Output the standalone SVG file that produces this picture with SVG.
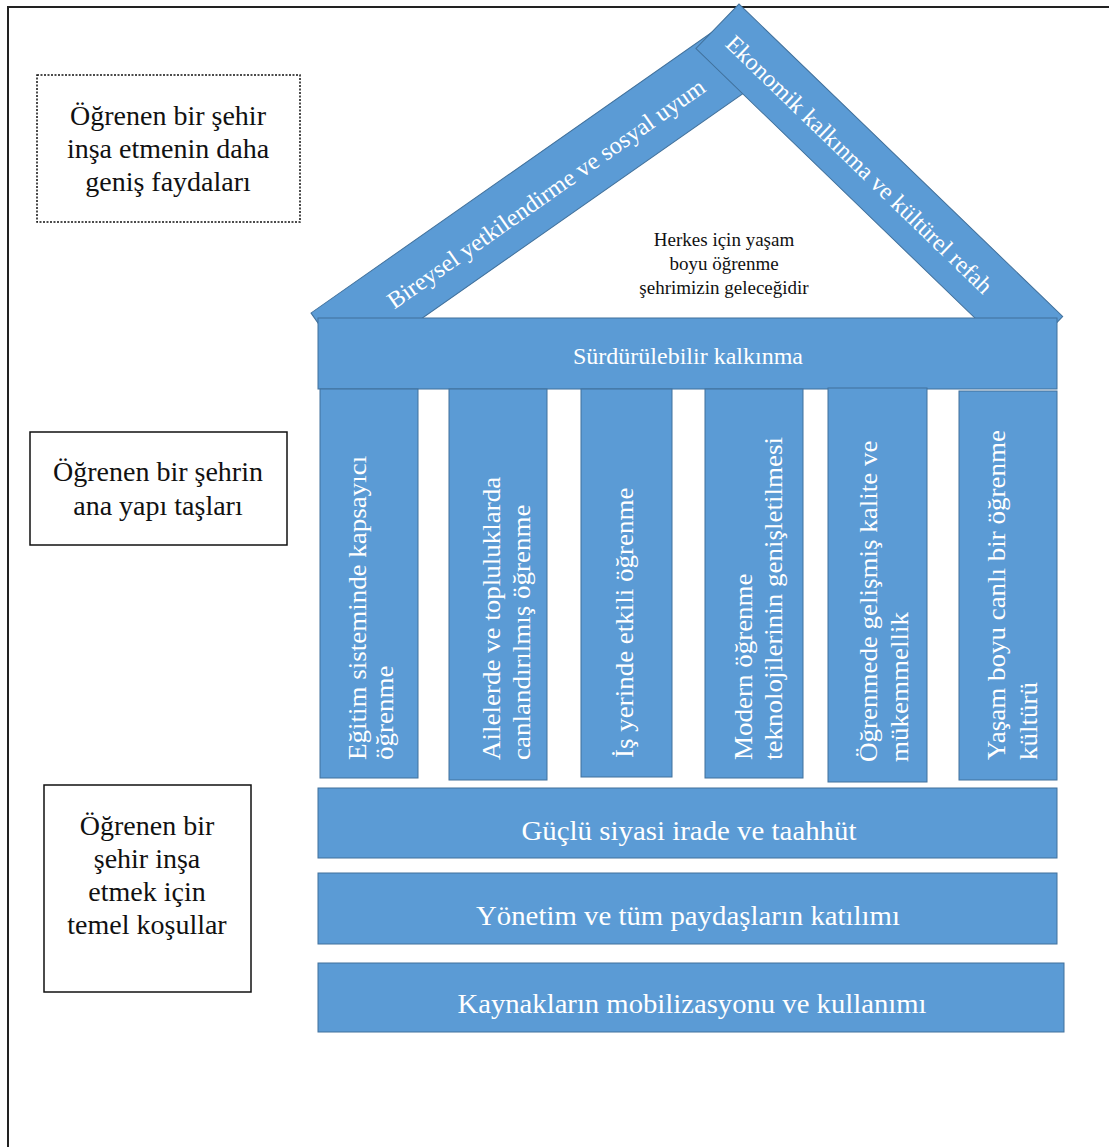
<svg xmlns="http://www.w3.org/2000/svg" width="1109" height="1147" viewBox="0 0 1109 1147">
<style>
.blk{fill:#5B9BD5;stroke:#41719C;stroke-width:1}
.wt{fill:#FFFFFF;font-family:"Liberation Serif","Times New Roman",serif}
.bt{fill:#111111;font-family:"Liberation Serif","Times New Roman",serif}
.box{fill:#FFFFFF;stroke:#111111;stroke-width:1.5}
.col{font-size:25px}
.bar{font-size:27px;text-anchor:middle}
.lbl{font-size:28px;text-anchor:middle}
</style>
<rect x="0" y="0" width="1109" height="1147" fill="#FFFFFF"/>
<path d="M8,1147 V7 H1109" fill="none" stroke="#222222" stroke-width="2"/>

<g id="roof-left">
  <g transform="translate(311,313) rotate(-35)">
    <rect class="blk" x="0" y="0" width="520" height="68"/>
    <text class="wt" x="261" y="45" font-size="24" text-anchor="middle" textLength="382" lengthAdjust="spacingAndGlyphs">Bireysel yetkilendirme ve sosyal uyum</text>
  </g>
</g>
<g id="roof-right">
  <g transform="translate(739,4) rotate(44)">
    <rect class="blk" x="0" y="0" width="450" height="62"/>
    <text class="wt" x="198" y="40" font-size="24" text-anchor="middle">Ekonomik kalkınma ve kültürel refah</text>
  </g>
</g>

<g id="vision">
  <text class="bt" font-size="19" text-anchor="middle"><tspan x="724" y="246">Herkes için yaşam</tspan><tspan x="724" y="270">boyu öğrenme</tspan><tspan x="724" y="294">şehrimizin geleceğidir</tspan></text>
</g>

<g id="entablature">
  <rect class="blk" x="318" y="318" width="739" height="71"/>
  <text class="wt" x="688" y="364" font-size="23" text-anchor="middle" textLength="230" lengthAdjust="spacingAndGlyphs">Sürdürülebilir kalkınma</text>
</g>

<g id="col1">
  <rect class="blk" x="320" y="389" width="98" height="389"/>
  <text class="wt col" transform="translate(366,760) rotate(-90) scale(1.08,1)"><tspan x="0" y="0">Eğitim sisteminde kapsayıcı</tspan><tspan x="0" y="27">öğrenme</tspan></text>
</g>
<g id="col2">
  <rect class="blk" x="449" y="389" width="98" height="391"/>
  <text class="wt col" transform="translate(500,760) rotate(-90) scale(1.08,1)"><tspan x="0" y="0">Ailelerde ve topluluklarda</tspan><tspan x="0" y="30">canlandırılmış öğrenme</tspan></text>
</g>
<g id="col3">
  <rect class="blk" x="581" y="389" width="91" height="388"/>
  <text class="wt col" transform="translate(633,758) rotate(-90) scale(1.08,1)">İş yerinde etkili öğrenme</text>
</g>
<g id="col4">
  <rect class="blk" x="705" y="389" width="98" height="389"/>
  <text class="wt col" transform="translate(752,760) rotate(-90) scale(1.08,1)"><tspan x="0" y="0">Modern öğrenme</tspan><tspan x="0" y="30">teknolojilerinin genişletilmesi</tspan></text>
</g>
<g id="col5">
  <rect class="blk" x="828" y="388" width="99" height="394"/>
  <text class="wt col" transform="translate(877,762) rotate(-90) scale(1.08,1)"><tspan x="0" y="0">Öğrenmede gelişmiş kalite ve</tspan><tspan x="0" y="31">mükemmellik</tspan></text>
</g>
<g id="col6">
  <rect class="blk" x="959" y="391" width="98" height="389"/>
  <text class="wt col" transform="translate(1005,760) rotate(-90) scale(1.08,1)"><tspan x="0" y="0">Yaşam boyu canlı bir öğrenme</tspan><tspan x="0" y="32">kültürü</tspan></text>
</g>

<g id="bar1">
  <rect class="blk" x="318" y="788" width="739" height="70"/>
  <text class="wt bar" x="689" y="840" textLength="335" lengthAdjust="spacingAndGlyphs">Güçlü siyasi irade ve taahhüt</text>
</g>
<g id="bar2">
  <rect class="blk" x="318" y="873" width="739" height="71"/>
  <text class="wt bar" x="688" y="925" textLength="424" lengthAdjust="spacingAndGlyphs">Yönetim ve tüm paydaşların katılımı</text>
</g>
<g id="bar3">
  <rect class="blk" x="318" y="963" width="746" height="69"/>
  <text class="wt bar" x="692" y="1013" textLength="469" lengthAdjust="spacingAndGlyphs">Kaynakların mobilizasyonu ve kullanımı</text>
</g>

<g id="label-benefits">
  <rect class="box" x="37" y="75" width="263" height="147" stroke-dasharray="2,1.5" stroke-width="1.2"/>
  <text class="bt lbl"><tspan x="168" y="125">Öğrenen bir şehir</tspan><tspan x="168" y="158">inşa etmenin daha</tspan><tspan x="168" y="191">geniş faydaları</tspan></text>
</g>
<g id="label-blocks">
  <rect class="box" x="30" y="432" width="257" height="113"/>
  <text class="bt lbl"><tspan x="158" y="481">Öğrenen bir şehrin</tspan><tspan x="158" y="515">ana yapı taşları</tspan></text>
</g>
<g id="label-conditions">
  <rect class="box" x="44" y="785" width="207" height="207"/>
  <text class="bt lbl"><tspan x="147" y="835">Öğrenen bir</tspan><tspan x="147" y="868">şehir inşa</tspan><tspan x="147" y="901">etmek için</tspan><tspan x="147" y="934">temel koşullar</tspan></text>
</g>
<g id="connectors"/>
</svg>
